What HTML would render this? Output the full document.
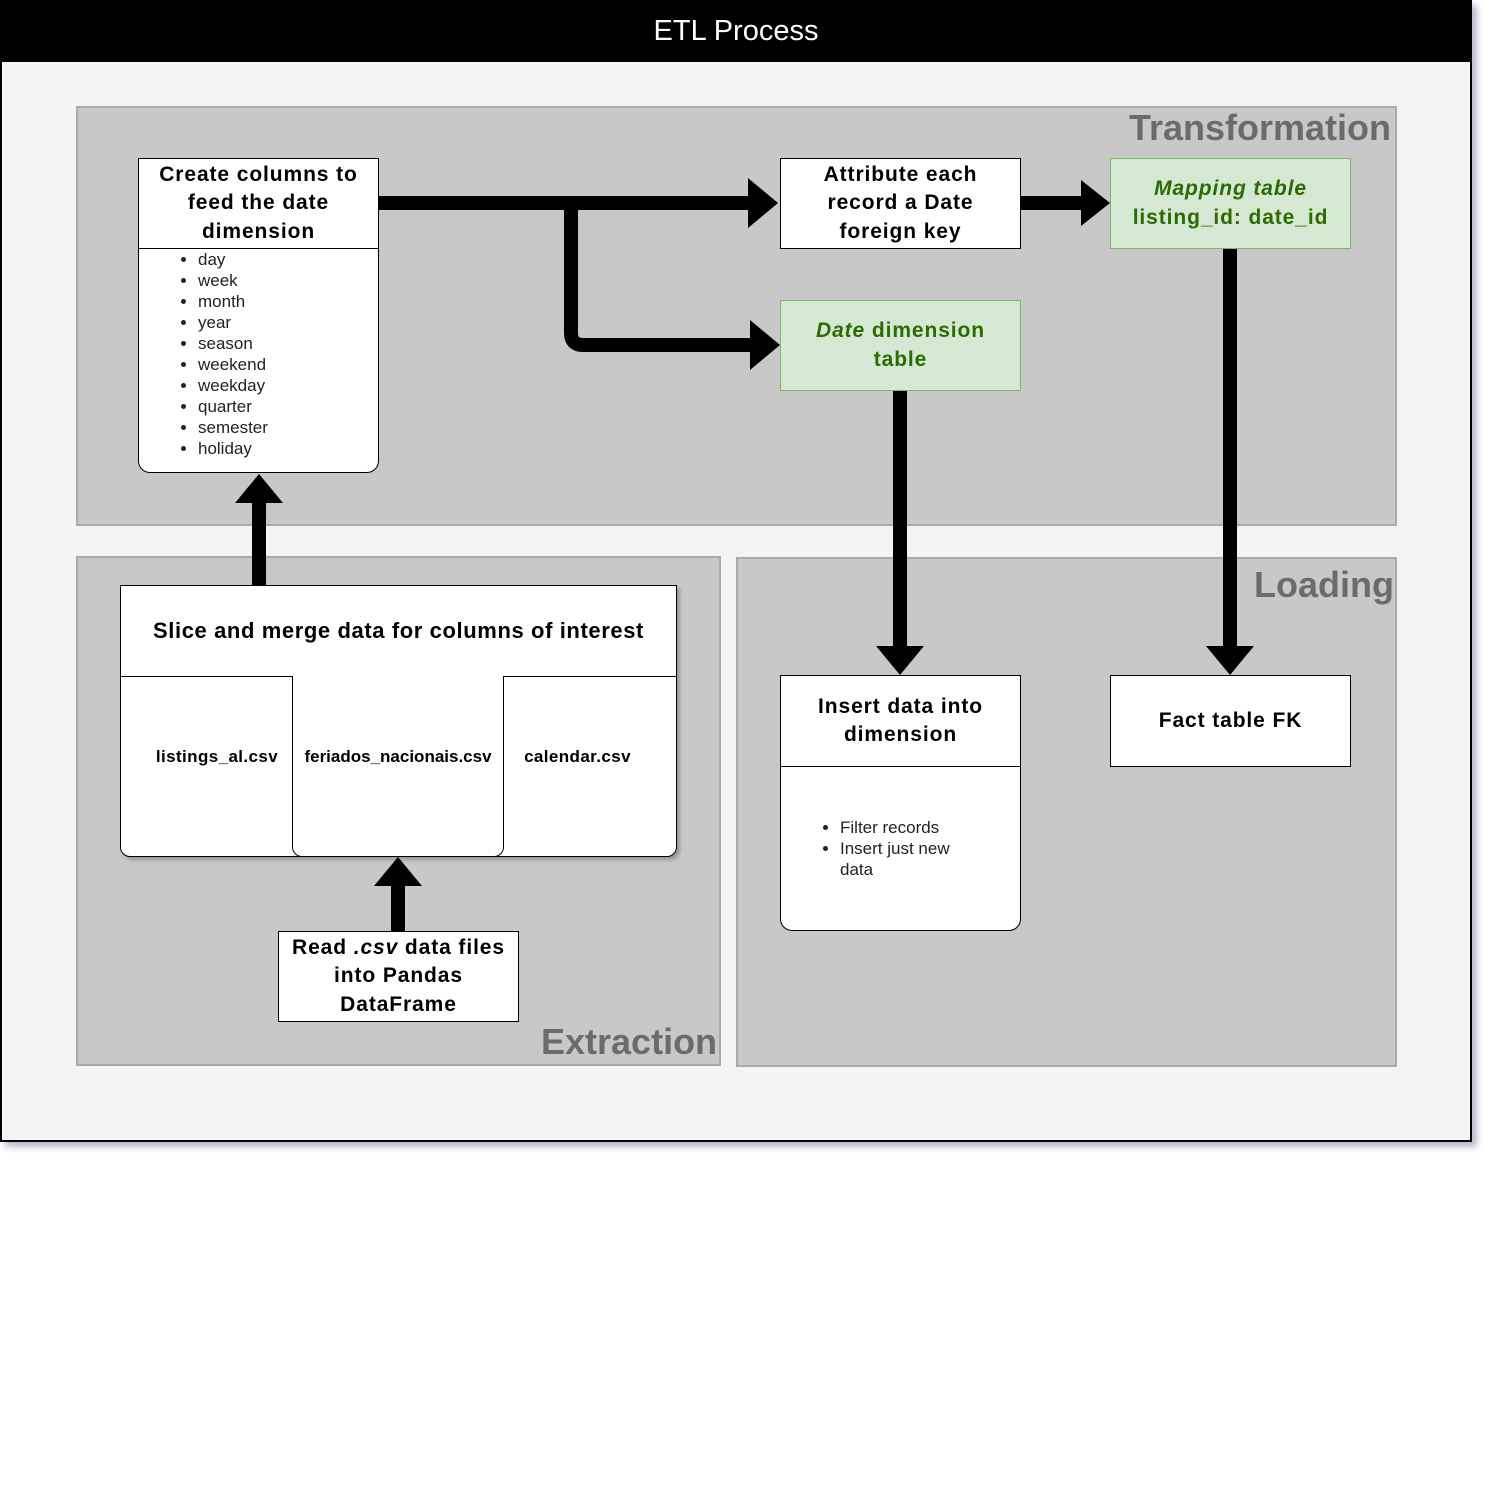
<!DOCTYPE html>
<html><head><style>
body{margin:0;width:1488px;height:1500px;background:#fff;position:relative;font-family:"Liberation Sans",sans-serif;overflow:hidden}
.a{position:absolute;box-sizing:border-box}
.box{background:#fff;border:1.5px solid #000;display:flex;align-items:center;justify-content:center;text-align:center;font-weight:bold;font-size:21px;line-height:28.5px;letter-spacing:0.9px;padding:0 12px}
.grp{background:#c8c8c8;border:2px solid #aaa}
.gl{position:absolute;color:#6b6b6b;font-weight:bold;font-size:36px}
ul{margin:0;padding-left:60px;font-size:17px;line-height:21px;color:#222}
.green{background:#d5e8d4;border:1.5px solid #82b366;color:#2d6a00}
.csv{font-size:17px;font-weight:bold;line-height:24px;text-align:center;letter-spacing:0.4px}
</style></head><body>
<div class="a" style="left:0;top:0;width:1472px;height:1142px;background:#f4f4f4;border:2px solid #000;box-shadow:5px 5px 6px #bbc"></div>
<div class="a" style="left:0;top:0;width:1472px;height:62px;background:#000;color:#fff;font-size:29px;text-align:center;line-height:62px">ETL Process</div>
<div class="a grp" style="left:76px;top:106px;width:1321px;height:420px"></div>
<div class="gl" style="right:97px;top:107px">Transformation</div>
<div class="a grp" style="left:76px;top:556px;width:645px;height:510px"></div>
<div class="gl" style="left:541px;top:1021px">Extraction</div>
<div class="a grp" style="left:736px;top:557px;width:661px;height:510px"></div>
<div class="gl" style="right:94px;top:564px">Loading</div>

<div class="a" style="left:138px;top:158px;width:241px;height:315px;background:#fff;border:1.5px solid #000;border-radius:0 0 12px 12px"></div>
<div class="a box" style="left:138px;top:158px;width:241px;height:91px">Create columns to feed the date dimension</div>
<div class="a" style="left:138px;top:249px;width:241px"><ul><li>day</li><li>week</li><li>month</li><li>year</li><li>season</li><li>weekend</li><li>weekday</li><li>quarter</li><li>semester</li><li>holiday</li></ul></div>

<div class="a box" style="left:780px;top:158px;width:241px;height:91px;padding:0 30px">Attribute each record a Date foreign key</div>
<div class="a box green" style="left:1110px;top:158px;width:241px;height:91px;padding:0 4px"><span><i>Mapping table</i><br>listing_id: date_id</span></div>
<div class="a box green" style="left:780px;top:300px;width:241px;height:91px;padding:0 30px"><span><i>Date</i> dimension table</span></div>

<div class="a" style="left:780px;top:675px;width:241px;height:256px;background:#fff;border:1.5px solid #000;border-radius:0 0 12px 12px"></div>
<div class="a box" style="left:780px;top:675px;width:241px;height:92px;padding:0 30px">Insert data into dimension</div>
<div class="a" style="left:780px;top:817px;width:200px"><ul style="font-size:17px;line-height:21px"><li>Filter records</li><li>Insert just new data</li></ul></div>
<div class="a box" style="left:1110px;top:675px;width:241px;height:92px">Fact table FK</div>

<div class="a" style="left:120px;top:585px;width:557px;height:272px;background:#fff;border:1.5px solid #000;border-radius:0 0 10px 10px;box-shadow:3px 3px 3px #999"></div>
<div class="a box" style="left:120px;top:585px;width:557px;height:92px;font-size:22px;letter-spacing:0.6px">Slice and merge data for columns of interest</div>
<div class="a" style="left:292px;top:676px;width:212px;height:181px;border:1.5px solid #000;border-top:none;border-radius:0 0 10px 10px;background:#fff"></div>
<div class="a csv" style="left:120px;top:745px;width:194px">listings_al.csv</div>
<div class="a csv" style="left:292px;top:745px;width:212px;letter-spacing:0">feriados_nacionais.csv</div>
<div class="a csv" style="left:504px;top:745px;width:147px">calendar.csv</div>
<div class="a box" style="left:278px;top:931px;width:241px;height:91px;padding:0 6px"><span>Read <i>.csv</i> data files into Pandas DataFrame</span></div>

<svg class="a" style="left:0;top:0" width="1488" height="1500">
<g fill="none" stroke="#000" stroke-width="14">
<path d="M379 203H750"/>
<path d="M571 203V333Q571 345 583 345H752"/>
<path d="M1021 203H1083"/>
<path d="M900 391V648"/>
<path d="M1230 249V648"/>
<path d="M259 585V502"/>
<path d="M398 931V885"/>
</g>
<g fill="#000">
<path d="M748 178L778 203L748 228Z"/>
<path d="M750 320L780 345L750 370Z"/>
<path d="M1081 180L1110 203L1081 226Z"/>
<path d="M876 646L900 675L924 646Z"/>
<path d="M1206 646L1230 675L1254 646Z"/>
<path d="M235 503L259 474L283 503Z"/>
<path d="M374 886L398 857L422 886Z"/>
</g>
</svg>
</body></html>
